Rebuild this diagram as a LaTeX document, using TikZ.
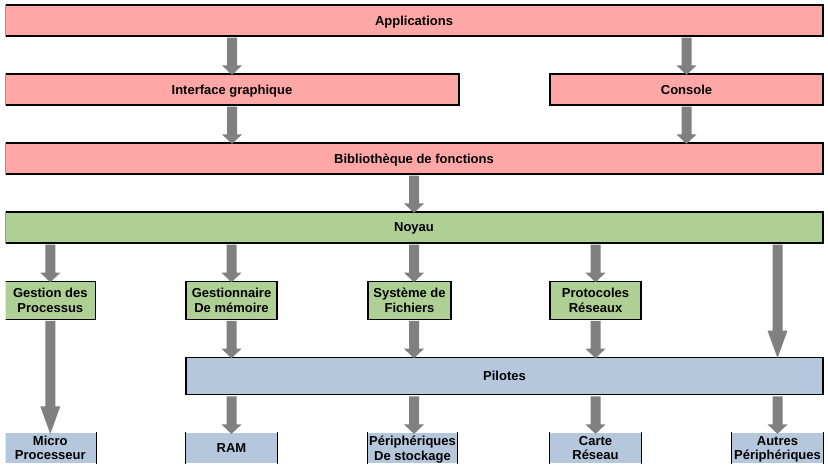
\documentclass[tikz,border=0pt]{standalone}
\usepackage{fontspec}
\setmainfont{Liberation Sans}
\usetikzlibrary{calc}
\definecolor{pinkc}{HTML}{FFA6A6}
\definecolor{greenc}{HTML}{AFD095}
\definecolor{bluec}{HTML}{B4C7DC}
\definecolor{arrowc}{HTML}{808080}
\tikzset{
  box/.style={draw=black, line width=1.2pt, inner sep=0pt, align=center, text depth=0pt,
    font=\fontsize{13}{14.5}\selectfont\bfseries},
  redbox/.style={box, fill=pinkc, minimum height=31pt},
  greenbox/.style={box, fill=greenc, minimum height=38pt, minimum width=91pt},
  bluebox/.style={box, draw=none, fill=bluec, minimum height=30pt, minimum width=91pt},
  arrowfill/.style={fill=arrowc},
  sideline/.style={draw=black, line width=1.2pt}
}
\newcommand{\barrow}[3][8]{%
  \fill[arrowfill] let \p1=(#2), \p2=(#3) in
  (\x1-5pt,\y1-1pt) -- (\x1+5pt,\y1-1pt) -- (\x1+5pt,\y2+#1pt) -- (\x1+10pt,\y2+#1pt)
  -- (\x1,\y2-1.5pt) -- (\x1-10pt,\y2+#1pt) -- (\x1-5pt,\y2+#1pt) -- cycle;}
\begin{document}
\begin{tikzpicture}[x=1pt, y=-1pt]
\useasboundingbox (0,0) rectangle (828,469);
\begin{scope}
\clip (5.7,-2) rectangle (830,471);
% layers
\node[redbox, minimum width=818pt] (app) at (414,20.5) {Applications};
\node[redbox, minimum width=454pt] (gui) at (232,89.5) {Interface graphique};
\node[redbox, minimum width=273pt] (con) at (686.5,89.5) {Console};
\node[redbox, minimum width=818pt] (lib) at (414,158.5) {Bibliothèque de fonctions};
\node[box, fill=greenc, minimum width=818pt, minimum height=31pt] (noy) at (414,227.5) {Noyau};
% kernel modules
\node[greenbox] (gp) at (50.3,300.3) {Gestion des\\Processus};
\node[greenbox] (gm) at (231.5,300.3) {Gestionnaire\\De mémoire};
\node[greenbox, minimum width=83pt] (sf) at (409.5,300.3) {Système de\\Fichiers};
\node[greenbox] (pr) at (595.5,300.3) {Protocoles\\Réseaux};
% drivers
\node[box, fill=bluec, minimum width=637pt, minimum height=37.4pt] (pil) at (504.5,376) {Pilotes};
% hardware
\node[bluebox] (mp) at (50.3,448) {Micro\\Processeur};
\node[bluebox] (ram) at (231.5,448) {RAM};
\node[bluebox, minimum width=89pt] (per) at (412.5,448) {Périphériques\\De stockage};
\node[bluebox] (ca) at (595.5,448) {Carte\\Réseau};
\node[bluebox] (ap) at (777.5,448) {Autres\\Périphériques};
\foreach \n in {mp,ram,per,ca,ap}{
  \draw[sideline] (\n.north west) -- (\n.south west) (\n.north east) -- (\n.south east);
}
% arrows
\barrow{app.south -| gui.north}{gui.north}
\barrow{app.south -| con.north}{con.north}
\barrow{gui.south}{gui.south |- lib.north}
\barrow{con.south}{con.south |- lib.north}
\barrow{lib.south}{noy.north}
\barrow{noy.south -| gp.north}{gp.north}
\barrow{noy.south -| gm.north}{gm.north}
\barrow{noy.south}{noy.south |- sf.north}
\barrow{noy.south -| pr.north}{pr.north}
\barrow[26]{noy.south -| ap.north}{ap.north |- pil.north}
\barrow[26]{gp.south}{mp.north}
\barrow{gm.south}{gm.south |- pil.north}
\barrow{sf.south -| noy.south}{noy.south |- pil.north}
\barrow{pr.south}{pr.south |- pil.north}
\barrow{pil.south -| ram.north}{ram.north}
\barrow{pil.south -| noy.south}{noy.south |- per.north}
\barrow{pil.south -| ca.north}{ca.north}
\barrow{pil.south -| ap.north}{ap.north}
\end{scope}
\end{tikzpicture}
\end{document}
